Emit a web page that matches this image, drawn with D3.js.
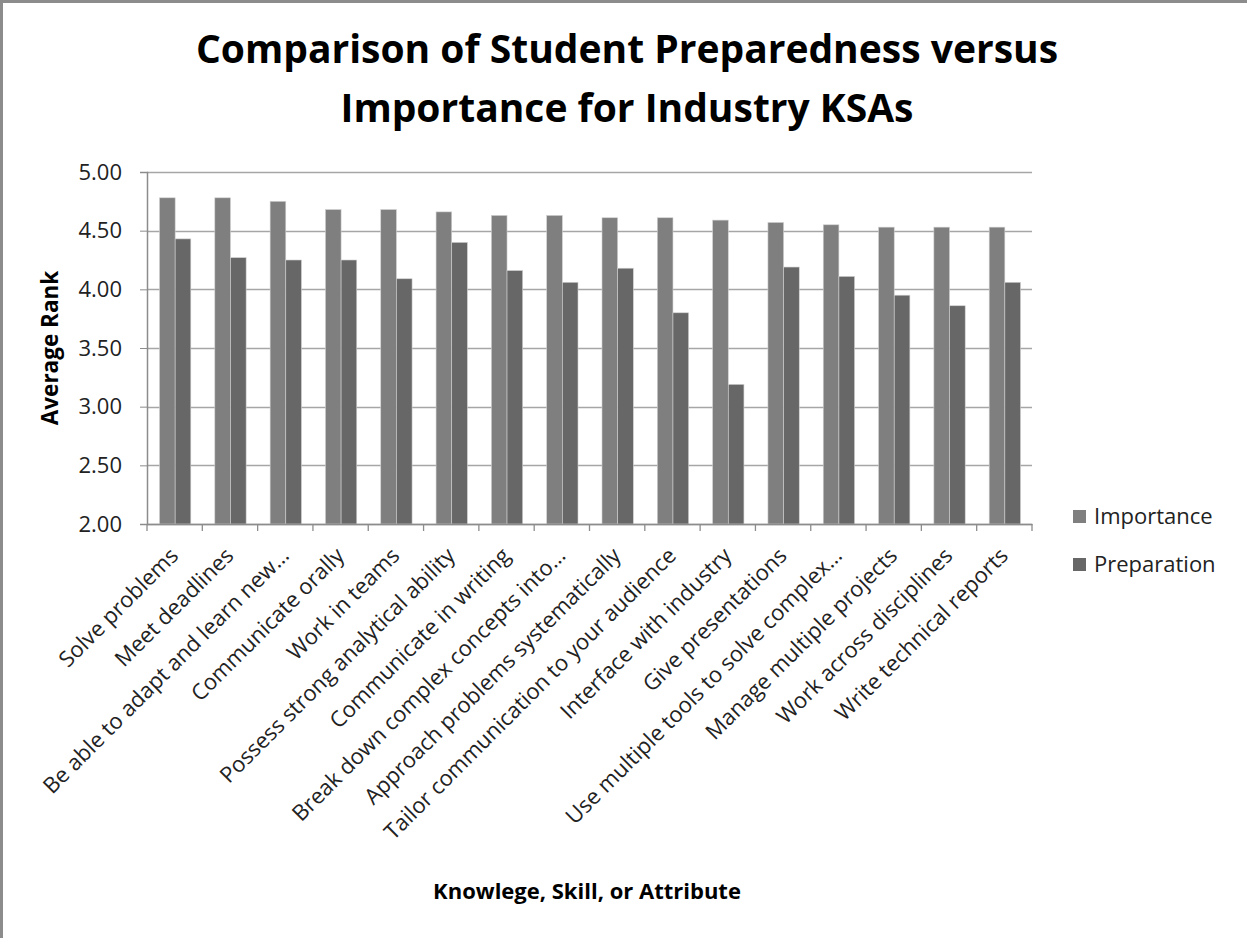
<!DOCTYPE html>
<html lang="en">
<head>
  <meta charset="UTF-8">
  <title>Student Preparedness vs Importance</title>
  <script src="https://d3js.org/d3.v7.min.js"></script>
  <style>
    body { margin: 0; background: #fff; }
    svg { display: block; font-family: "Open Sans", Lato, sans-serif; }
  </style>
</head>
<body>
<div class="main"></div>
<script>

  // data
  var categories = [
    "Solve problems",
    "Meet deadlines",
    "Be able to adapt and learn new…",
    "Communicate orally",
    "Work in teams",
    "Possess strong analytical ability",
    "Communicate in writing",
    "Break down complex concepts into…",
    "Approach problems systematically",
    "Tailor communication to your audience",
    "Interface with industry",
    "Give presentations",
    "Use multiple tools to solve complex…",
    "Manage multiple projects",
    "Work across disciplines",
    "Write technical reports"
  ];
  var importance = [4.78, 4.78, 4.75, 4.68, 4.68, 4.66, 4.63, 4.63, 4.61, 4.61, 4.59, 4.57, 4.55, 4.53, 4.53, 4.53];
  var preparation = [4.43, 4.27, 4.25, 4.25, 4.09, 4.40, 4.16, 4.06, 4.18, 3.80, 3.19, 4.19, 4.11, 3.95, 3.86, 4.06];
  var seriesNames = ["Importance", "Preparation"];
  var seriesColors = ["#7f7f7f", "#676767"];
  var yTicks = [2.0, 2.5, 3.0, 3.5, 4.0, 4.5, 5.0];

  let width = 1247, height = 938;
  let plotLeft = 147, plotRight = 1032, plotTop = 172, plotBottom = 524;

  let svg = d3.select(".main")
          .append("svg")
          .attr("width", width)
          .attr("height", height);

  // outer chart border (only the left and top edges show in the picture)
  svg.append("rect")
          .attr("x", 1.5).attr("y", 1.5)
          .attr("width", width + 20).attr("height", height + 20)
          .style("fill", "none").style("stroke", "#8c8c8c").style("stroke-width", 3);

  let xScale = d3.scaleBand().domain(categories).range([plotLeft, plotRight]).paddingInner(0).paddingOuter(0);
  let inner = d3.scaleBand().domain(seriesNames).range([12.5, xScale.bandwidth() - 11.5]);
  let yScale = d3.scaleLinear().domain([2, 5]).range([plotBottom, plotTop]);

  // grid lines
  svg.append("g").selectAll("line")
          .data(yTicks)
          .join("line")
          .attr("x1", plotLeft).attr("x2", plotRight)
          .attr("y1", d => Math.round(yScale(d)) + 0.5)
          .attr("y2", d => Math.round(yScale(d)) + 0.5)
          .style("stroke", "#a6a6a6").style("stroke-width", 1.3);

  // bars
  let rows = categories.map((c, i) => ({cat: c, vals: [importance[i], preparation[i]]}));
  let groups = svg.append("g").selectAll("g")
          .data(rows)
          .join("g")
          .attr("transform", d => `translate(${xScale(d.cat)},0)`);
  groups.selectAll("rect")
          .data(d => d.vals.map((v, k) => ({name: seriesNames[k], v: v, k: k})))
          .join("rect")
          .attr("x", d => inner(d.name))
          .attr("width", inner.bandwidth())
          .attr("y", d => yScale(d.v))
          .attr("height", d => yScale(2) - yScale(d.v))
          .style("fill", d => seriesColors[d.k])
          .style("stroke", "#d0d0d0").style("stroke-width", 0.6);

  // y axis
  let yAxis = d3.axisLeft(yScale)
          .tickValues(yTicks)
          .tickSize(7)
          .tickPadding(18)
          .tickFormat(d3.format(".2f"));
  let yG = svg.append("g").attr("transform", `translate(${plotLeft},0)`).call(yAxis);
  yG.select(".domain").style("stroke", "#8c8c8c").style("stroke-width", 1.5);
  yG.selectAll(".tick line").style("stroke", "#8c8c8c");
  yG.selectAll(".tick text")
          .style("font-family", "'Open Sans', sans-serif")
          .style("font-size", "22px")
          .style("fill", "#222");

  // x axis
  let xAxis = d3.axisBottom(xScale).tickSize(0).tickFormat("");
  let xG = svg.append("g").attr("transform", `translate(0,${plotBottom})`).call(xAxis);
  xG.select(".domain").style("stroke", "#8c8c8c").style("stroke-width", 1.5);
  // tick marks at category boundaries
  xG.append("g").selectAll("line")
          .data(categories.concat([null]))
          .join("line")
          .attr("x1", (d, i) => plotLeft + i * xScale.step())
          .attr("x2", (d, i) => plotLeft + i * xScale.step())
          .attr("y1", 0).attr("y2", 7)
          .style("stroke", "#8c8c8c").style("stroke-width", 1.3);

  // rotated category labels
  svg.append("g").selectAll("text")
          .data(categories)
          .join("text")
          .attr("transform", d => `translate(${xScale(d) + xScale.bandwidth() / 2 + 5},${plotBottom + 33}) rotate(-45)`)
          .attr("text-anchor", "end")
          .style("font-size", "22px")
          .style("fill", "#222")
          .text(d => d);

  // titles
  svg.append("text").attr("x", 627).attr("y", 63).attr("text-anchor", "middle")
          .style("font-size", "39px").style("font-weight", "bold").text("Comparison of Student Preparedness versus");
  svg.append("text").attr("x", 627).attr("y", 122).attr("text-anchor", "middle")
          .style("font-size", "39px").style("font-weight", "bold").text("Importance for Industry KSAs");

  svg.append("text")
          .attr("transform", `translate(58,${(plotTop + plotBottom) / 2}) rotate(-90)`)
          .attr("text-anchor", "middle")
          .style("font-size", "22.5px").style("font-weight", "bold").text("Average Rank");

  svg.append("text").attr("x", 587).attr("y", 899).attr("text-anchor", "middle")
          .style("font-size", "22px").style("font-weight", "bold").text("Knowlege, Skill, or Attribute");

  // legend
  let legend = svg.append("g").selectAll("g")
          .data(seriesNames)
          .join("g")
          .attr("transform", (d, i) => `translate(1073,${517 + i * 48})`);
  legend.append("rect").attr("x", 0).attr("y", -7).attr("width", 13).attr("height", 13)
          .style("fill", (d, i) => seriesColors[i]);
  legend.append("text").attr("x", 21).attr("y", 7)
          .style("font-size", "22px").style("fill", "#222").text(d => d);

</script>
</body>
</html>
